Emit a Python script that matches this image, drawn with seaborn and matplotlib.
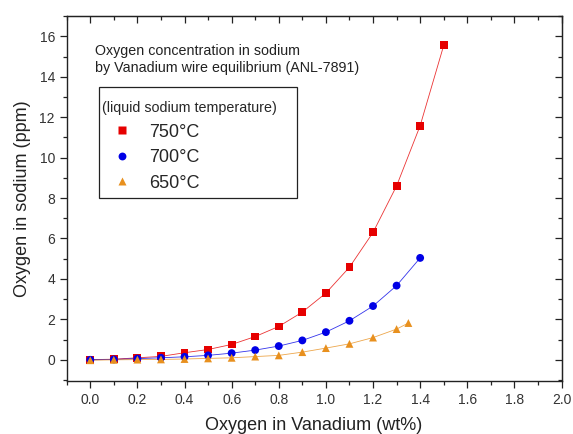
import numpy as np
import pandas as pd
import seaborn as sns
import matplotlib
matplotlib.use("Agg")
import matplotlib.pyplot as plt
from matplotlib.ticker import MultipleLocator
from matplotlib.patches import Rectangle

# data
x_750 = [0.0, 0.1, 0.2, 0.3, 0.4, 0.5, 0.6, 0.7, 0.8, 0.9, 1.0, 1.1, 1.2, 1.3, 1.4, 1.5]
y_750 = [0.01, 0.03, 0.10, 0.17, 0.35, 0.51, 0.76, 1.15, 1.65, 2.36, 3.30, 4.58, 6.30, 8.60, 11.58, 15.55]
x_700 = [0.0, 0.1, 0.2, 0.3, 0.4, 0.5, 0.6, 0.7, 0.8, 0.9, 1.0, 1.1, 1.2, 1.3, 1.4]
y_700 = [0.0, 0.02, 0.06, 0.10, 0.15, 0.22, 0.33, 0.48, 0.68, 0.96, 1.37, 1.93, 2.66, 3.67, 5.04]
x_650 = [0.0, 0.1, 0.2, 0.3, 0.4, 0.5, 0.6, 0.7, 0.8, 0.9, 1.0, 1.1, 1.2, 1.3, 1.35]
y_650 = [-0.02, 0.0, 0.01, 0.02, 0.04, 0.07, 0.10, 0.16, 0.22, 0.38, 0.58, 0.79, 1.10, 1.52, 1.82]
labels = ["750°C", "700°C", "650°C"]

df = pd.concat([
    pd.DataFrame({"x": x_750, "y": y_750, "T": labels[0]}),
    pd.DataFrame({"x": x_700, "y": y_700, "T": labels[1]}),
    pd.DataFrame({"x": x_650, "y": y_650, "T": labels[2]}),
])

sns.set_style("ticks")
plt.rcParams["font.family"] = ["Liberation Sans", "DejaVu Sans"]

colors = {labels[0]: "#e60000", labels[1]: "#0000e6", labels[2]: "#e8901e"}
markers = {labels[0]: "s", labels[1]: "o", labels[2]: "^"}

fig = plt.figure(figsize=(5.73, 4.34), dpi=100)
ax = fig.add_axes([0.1164, 0.122, 0.8636, 0.841])

sns.lineplot(data=df, x="x", y="y", hue="T", palette=colors, linewidth=0.6,
             ax=ax, legend=False, sort=True, alpha=0.8)
sns.scatterplot(data=df, x="x", y="y", hue="T", style="T", palette=colors,
                markers=markers, s=32, edgecolor="none", ax=ax, zorder=3)

ax.set_xlim(-0.1, 2.0)
ax.set_ylim(-1.05, 17)
ax.xaxis.set_major_locator(MultipleLocator(0.2))
ax.xaxis.set_minor_locator(MultipleLocator(0.1))
ax.yaxis.set_major_locator(MultipleLocator(2))
ax.yaxis.set_minor_locator(MultipleLocator(1))
ax.xaxis.set_major_formatter(matplotlib.ticker.FormatStrFormatter("%.1f"))
ax.tick_params(which="major", direction="out", length=5, width=0.9, labelsize=10,
               labelcolor="#333333", color="#222222")
ax.tick_params(which="minor", direction="out", length=3, width=0.9, color="#222222")
for s in ax.spines.values():
    s.set_linewidth(1.0)
    s.set_color("#222222")

# mirrored inward ticks on top and right
top = ax.secondary_xaxis("top")
top.xaxis.set_major_locator(MultipleLocator(0.2))
top.xaxis.set_minor_locator(MultipleLocator(0.1))
top.tick_params(which="major", direction="in", length=5, width=0.9, labeltop=False, color="#222222")
top.tick_params(which="minor", direction="in", length=3, width=0.9, color="#222222")
right = ax.secondary_yaxis("right")
right.yaxis.set_major_locator(MultipleLocator(2))
right.yaxis.set_minor_locator(MultipleLocator(1))
right.tick_params(which="major", direction="in", length=5, width=0.9, labelright=False, color="#222222")
right.tick_params(which="minor", direction="in", length=3, width=0.9, color="#222222")

ax.set_xlabel("Oxygen in Vanadium (wt%)", fontsize=13, color="#222222", labelpad=7)
ax.set_ylabel("Oxygen in sodium (ppm)", fontsize=13, color="#222222", labelpad=6)

ax.text(0.058, 0.924, "Oxygen concentration in sodium\nby Vanadium wire equilibrium (ANL-7891)",
        transform=ax.transAxes, fontsize=10.3, color="#222222", va="top", linespacing=1.25)

# legend frame drawn separately so its size matches the reference box
ax.add_patch(Rectangle((0.066, 0.502), 0.399, 0.304, transform=ax.transAxes,
                       facecolor="white", edgecolor="#222222", linewidth=0.9, zorder=4))

handles, _ = ax.get_legend_handles_labels()
leg = ax.legend(handles, labels, title="(liquid sodium temperature)", loc="upper left",
                bbox_to_anchor=(0.064, 0.777), borderaxespad=0,
                fontsize=13, title_fontsize=10.3, frameon=False, borderpad=0.2,
                handlelength=2.2, handletextpad=0.4, labelspacing=0.47, markerscale=1.0)
leg.set_zorder(5)
leg._legend_box.align = "left"

fig.savefig("out.png", dpi=100)
